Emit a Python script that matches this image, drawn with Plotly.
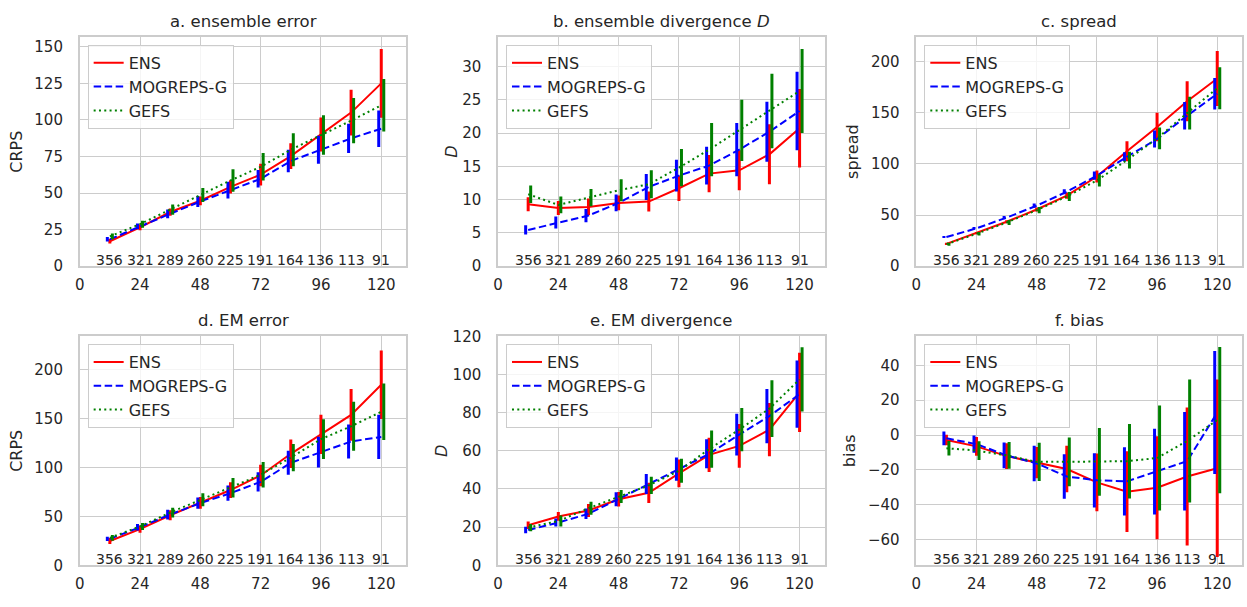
import plotly.graph_objects as go

# ---------------- data ----------------
lead = [12, 24, 36, 48, 60, 72, 84, 96, 108, 120]
counts = ["356", "321", "289", "260", "225", "191", "164", "136", "113", "91"]
xticks = [0, 24, 48, 72, 96, 120]
series_names = ["ENS", "MOGREPS-G", "GEFS"]

# a. ensemble error
a_ens = [17.0, 26.5, 37.0, 44.7, 54.2, 62.6, 75.2, 90.0, 105.0, 125.0]
a_ens_err = [1.5, 2.0, 2.5, 3.0, 4.5, 7.4, 8.8, 11.6, 15.6, 23.5]
a_mog = [18.4, 27.2, 35.8, 44.2, 52.0, 59.7, 71.9, 79.6, 87.4, 94.0]
a_mog_err = [1.5, 2.0, 3.0, 3.7, 5.7, 6.0, 7.7, 9.5, 10.0, 12.5]
a_gefs = [20.4, 28.7, 38.7, 48.7, 58.6, 67.9, 79.6, 89.6, 99.5, 110.0]
a_gefs_err = [2.0, 2.4, 3.5, 4.8, 7.7, 9.4, 11.3, 13.5, 15.5, 18.0]

# b. ensemble divergence D
b_ens = [9.3, 8.75, 8.9, 9.5, 9.7, 11.7, 13.9, 14.4, 16.8, 20.7]
b_ens_err = [1.05, 1.05, 1.25, 1.1, 1.5, 1.9, 2.8, 3.0, 4.5, 5.9]
b_mog = [5.44, 6.56, 7.6, 9.5, 11.9, 13.6, 15.1, 17.5, 20.2, 23.3]
b_mog_err = [0.7, 0.9, 1.0, 1.25, 1.95, 2.4, 2.85, 4.0, 4.5, 5.9]
b_gefs = [10.8, 9.2, 10.3, 11.4, 12.3, 14.8, 17.5, 20.4, 23.3, 26.3]
b_gefs_err = [1.3, 1.25, 1.3, 1.65, 2.1, 2.8, 4.0, 4.6, 5.6, 6.3]

# c. spread
c_ens = [21.8, 32.3, 43.4, 55.4, 69.0, 87.7, 112.4, 136.1, 161.4, 183.6]
c_ens_err = [1.0, 1.0, 1.5, 2.0, 3.0, 5.9, 9.8, 14.0, 19.6, 27.0]
c_mog = [28.5, 37.0, 47.5, 59.2, 72.8, 88.6, 107.0, 124.4, 147.2, 168.7]
c_mog_err = [1.0, 1.2, 1.5, 2.0, 2.5, 4.0, 4.4, 8.4, 13.5, 15.5]
c_gefs = [21.5, 31.7, 42.7, 54.8, 68.1, 83.9, 103.8, 125.0, 149.8, 174.1]
c_gefs_err = [1.5, 1.8, 2.5, 3.0, 4.4, 5.9, 8.2, 10.6, 16.0, 20.5]

# d. EM error
d_ens = [24.8, 36.9, 51.1, 63.7, 76.8, 91.7, 113.8, 133.7, 153.5, 184.2]
d_ens_err = [3.0, 3.6, 5.0, 6.0, 8.0, 11.0, 14.5, 20.0, 26.4, 35.0]
d_mog = [27.0, 38.9, 51.8, 63.4, 73.6, 85.1, 104.6, 115.5, 126.4, 131.0]
d_mog_err = [2.2, 3.3, 5.0, 5.8, 7.8, 9.9, 12.2, 15.7, 17.3, 22.6]
d_gefs = [28.0, 39.6, 53.8, 66.9, 79.2, 92.4, 109.9, 128.7, 141.9, 156.7]
d_gefs_err = [3.0, 3.6, 5.0, 6.6, 9.9, 12.9, 14.0, 20.3, 25.0, 28.9]

# e. EM divergence
e_ens = [21.0, 25.6, 28.7, 34.6, 38.0, 48.2, 57.9, 62.6, 71.1, 90.6]
e_ens_err = [2.0, 2.3, 3.4, 3.8, 5.3, 7.3, 9.0, 11.5, 14.0, 20.8]
e_mog = [18.5, 22.4, 27.0, 34.6, 42.6, 50.4, 58.4, 68.5, 78.2, 89.7]
e_mog_err = [1.7, 2.1, 2.8, 3.7, 5.3, 6.1, 7.6, 10.9, 14.2, 17.6]
e_gefs = [19.8, 23.2, 29.9, 36.0, 41.9, 49.5, 60.9, 71.1, 82.1, 97.4]
e_gefs_err = [1.9, 2.9, 3.4, 3.4, 4.5, 6.3, 9.8, 11.3, 14.9, 16.8]

# f. bias
f_ens = [-2.8, -6.5, -12.1, -15.8, -19.5, -27.2, -32.5, -30.3, -23.8, -19.1]
f_ens_err = [3.0, 5.4, 7.4, 9.0, 13.4, 16.6, 23.2, 29.6, 39.6, 51.0]
f_mog = [-1.9, -5.2, -11.7, -16.3, -23.8, -26.0, -26.6, -21.0, -15.0, 12.9]
f_mog_err = [3.9, 5.0, 7.4, 10.2, 12.8, 15.6, 19.6, 24.6, 28.3, 35.3]
f_gefs = [-7.6, -8.9, -11.7, -15.4, -15.4, -15.4, -15.0, -13.2, -3.4, 8.6]
f_gefs_err = [4.2, 5.4, 7.7, 11.0, 14.0, 19.4, 21.4, 30.2, 35.3, 42.0]

panels = [
    dict(title="a. ensemble error", ytitle="CRPS", ys=[(a_ens, a_ens_err), (a_mog, a_mog_err), (a_gefs, a_gefs_err)],
         yrange=[0, 156.6], dtick=25, standoff=8),
    dict(title="b. ensemble divergence <i>D</i>", ytitle="<i>D</i>", ys=[(b_ens, b_ens_err), (b_mog, b_mog_err), (b_gefs, b_gefs_err)],
         yrange=[0, 34.4], dtick=5, standoff=1),
    dict(title="c. spread", ytitle="spread", ys=[(c_ens, c_ens_err), (c_mog, c_mog_err), (c_gefs, c_gefs_err)],
         yrange=[0, 224.1], dtick=50, standoff=8),
    dict(title="d. EM error", ytitle="CRPS", ys=[(d_ens, d_ens_err), (d_mog, d_mog_err), (d_gefs, d_gefs_err)],
         yrange=[0, 233.7], dtick=50, standoff=8),
    dict(title="e. EM divergence", ytitle="<i>D</i>", ys=[(e_ens, e_ens_err), (e_mog, e_mog_err), (e_gefs, e_gefs_err)],
         yrange=[0, 120.0], dtick=20, standoff=1),
    dict(title="f. bias", ytitle="bias", ys=[(f_ens, f_ens_err), (f_mog, f_mog_err), (f_gefs, f_gefs_err)],
         yrange=[-74.8, 56.7], dtick=20, standoff=8),
]

# ---------------- style ----------------
W, H = 1247, 607
FONT = "DejaVu Sans"
TXT = "#262626"
GRID = "#cccccc"
colors = ["red", "blue", "green"]
dashes = ["solid", "7.5px,3.5px", "2px,3.3px"]
offsets = [0, -1, 1]
col_px = [(75, 403), (495, 823), (915, 1242.3)]
row_px = [(29, 265), (337.3, 573.3)]

fig = go.Figure()
layout = dict(
    width=W, height=H, margin=dict(l=0, r=0, t=0, b=0),
    paper_bgcolor="white", plot_bgcolor="white",
    font=dict(family=FONT, size=15, color=TXT),
    annotations=[],
)

for i, p in enumerate(panels):
    n = i + 1
    r, c = divmod(i, 3)
    x0, x1 = col_px[c]
    ytop, ybot = row_px[r]
    xs = "" if n == 1 else str(n)
    lg = "legend" if n == 1 else f"legend{n}"
    for k, (vals, errs) in enumerate(p["ys"]):
        fig.add_trace(go.Scatter(
            x=lead, y=vals, mode="lines", name=series_names[k],
            line=dict(color=colors[k], width=2, dash=dashes[k]),
            xaxis="x" + xs, yaxis="y" + xs, legend=lg, showlegend=True,
        ))
        fig.add_trace(go.Scatter(
            x=[v + offsets[k] for v in lead], y=vals, mode="markers",
            marker=dict(color="rgba(0,0,0,0)", size=1),
            error_y=dict(type="data", array=errs, visible=True, color=colors[k], thickness=3, width=0),
            xaxis="x" + xs, yaxis="y" + xs, showlegend=False, hoverinfo="skip",
        ))
    layout["xaxis" + xs] = dict(
        domain=[x0 / W, x1 / W], anchor="y" + xs, range=[0, 130],
        tickvals=xticks, showgrid=True, gridcolor=GRID, gridwidth=1.3,
        showline=True, linecolor=GRID, linewidth=1.5, mirror=True, zeroline=False,
        ticks="", ticklabelstandoff=4, tickfont=dict(size=15, color=TXT),
    )
    layout["yaxis" + xs] = dict(
        domain=[1 - ybot / H, 1 - ytop / H], anchor="x" + xs, range=p["yrange"],
        dtick=p["dtick"], tick0=0, showgrid=True, gridcolor=GRID, gridwidth=1.3,
        showline=True, linecolor=GRID, linewidth=1.5, mirror=True, zeroline=False,
        ticks="", ticklabelstandoff=12, tickfont=dict(size=15, color=TXT),
        title=dict(text=p["ytitle"], font=dict(size=16, color=TXT), standoff=p["standoff"]),
    )
    layout[lg] = dict(
        x=(x0 + 8) / W, y=1 - (ytop + 8) / H, xanchor="left", yanchor="top",
        bgcolor="rgba(255,255,255,0.8)", bordercolor=GRID, borderwidth=1,
        font=dict(size=16, color=TXT), tracegroupgap=0,
    )
    layout["annotations"].append(dict(
        text=p["title"], x=(x0 + x1) / 2 / W, y=1 - (ytop - 16) / H, xref="paper", yref="paper",
        xanchor="center", yanchor="middle", showarrow=False, font=dict(size=16.5, color=TXT),
    ))
    for xv, ct in zip(lead, counts):
        layout["annotations"].append(dict(
            text=ct, x=xv, y=0.027, xref="x" + xs, yref=f"y{xs} domain",
            xanchor="center", yanchor="middle", showarrow=False, font=dict(size=14, color=TXT),
        ))

fig.update_layout(**layout)
fig.write_html(
    "out.html",
    config={"displayModeBar": False},
    post_script="document.body.style.margin='0';document.body.style.overflow='hidden';",
)
